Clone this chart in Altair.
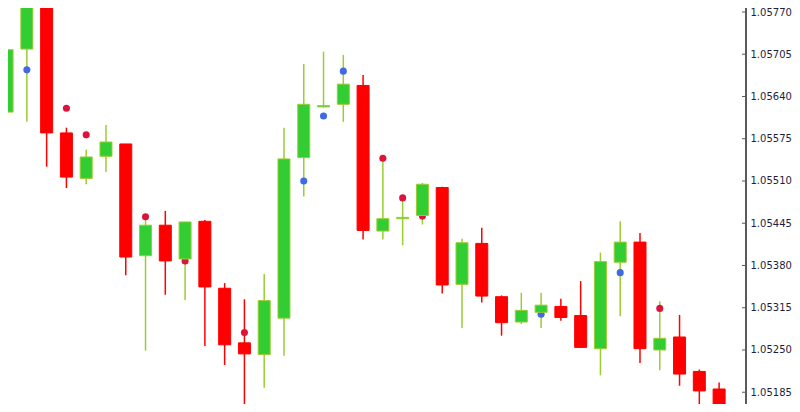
import altair as alt
import pandas as pd

opens = [1.05616, 1.05713, 1.05785, 1.05584, 1.05514, 1.05548, 1.05567, 1.05395, 1.05442, 1.05390,
         1.05448, 1.05345, 1.05261, 1.05243, 1.05299, 1.05546, 1.05624, 1.05628, 1.05657, 1.05433,
         1.05452, 1.05457, 1.05500, 1.05351, 1.05414, 1.05332, 1.05293, 1.05308, 1.05317, 1.05303,
         1.05252, 1.05385, 1.05416, 1.05250, 1.05270, 1.05217, 1.05190]
highs = [1.05738, 1.05796, 1.05787, 1.05592, 1.05558, 1.05596, 1.05567, 1.05452, 1.05464, 1.05447,
         1.05450, 1.05353, 1.05328, 1.05367, 1.05592, 1.05690, 1.05709, 1.05704, 1.05673, 1.05545,
         1.05481, 1.05507, 1.05501, 1.05421, 1.05438, 1.05334, 1.05338, 1.05338, 1.05329, 1.05356,
         1.05400, 1.05448, 1.05430, 1.05325, 1.05304, 1.05220, 1.05200]
lows = [1.05542, 1.05601, 1.05532, 1.05499, 1.05505, 1.05524, 1.05365, 1.05249, 1.05335, 1.05327,
        1.05256, 1.05227, 1.05135, 1.05192, 1.05241, 1.05486, 1.05623, 1.05601, 1.05420, 1.05420,
        1.05411, 1.05443, 1.05337, 1.05284, 1.05323, 1.05272, 1.05290, 1.05284, 1.05295, 1.05253,
        1.05211, 1.05302, 1.05230, 1.05219, 1.05195, 1.05150, 1.05140]
closes = [1.05712, 1.05782, 1.05584, 1.05516, 1.05547, 1.05570, 1.05393, 1.05442, 1.05387, 1.05447,
          1.05347, 1.05258, 1.05244, 1.05326, 1.05544, 1.05628, 1.05626, 1.05659, 1.05434, 1.05452,
          1.05454, 1.05505, 1.05350, 1.05415, 1.05333, 1.05292, 1.05311, 1.05319, 1.05300, 1.05254,
          1.05386, 1.05416, 1.05252, 1.05268, 1.05213, 1.05187, 1.05150]

blue_idx = [1, 15, 16, 17, 27, 31]
blue_val = [1.05681, 1.05510, 1.05610, 1.05679, 1.05305, 1.05369]
red_idx = [3, 4, 7, 9, 12, 19, 20, 21, 33]
red_val = [1.05622, 1.05581, 1.05455, 1.05387, 1.05277, 1.05545, 1.05484, 1.05456, 1.05314]

tick_values = [1.05770, 1.05705, 1.05640, 1.05575, 1.05510, 1.05445, 1.05380, 1.05315, 1.05250, 1.05185]

df = pd.DataFrame({"i": list(range(len(opens))), "open": opens, "high": highs,
                   "low": lows, "close": closes})
df["dir"] = ["up" if c >= o else "down" for o, c in zip(opens, closes)]

dots = pd.DataFrame({"i": blue_idx + red_idx, "v": blue_val + red_val,
                     "kind": ["blue"] * len(blue_idx) + ["red"] * len(red_idx)})
ticks_df = pd.DataFrame({"v": tick_values})

xs = alt.Scale(domain=[0.2993, 37.107], nice=False, zero=False)
ys = alt.Scale(domain=[1.0516692, 1.05770], nice=False, zero=False)

X = alt.X("i:Q", scale=xs, axis=None)

base = alt.Chart(df)

wicks = base.mark_rule(strokeWidth=1.5, clip=False).encode(
    x=X,
    y=alt.Y("high:Q", scale=ys,
            axis=alt.Axis(orient="right", values=tick_values, format=".5f",
                          ticks=False, tickSize=0, grid=False, domain=False,
                          labelFont="DejaVu Sans", labelFontSize=10,
                          labelColor="#1e1e3c", labelPadding=4, title=None)),
    y2="low:Q",
    color=alt.Color("dir:N", scale=alt.Scale(domain=["up", "down"],
                                             range=["#9ACD32", "#FF0000"]), legend=None),
)

dot_layer = alt.Chart(dots).mark_point(filled=True, size=50, opacity=1, clip=False).encode(
    x=X,
    y=alt.Y("v:Q", scale=ys),
    color=alt.Color("kind:N", scale=alt.Scale(domain=["blue", "red"],
                                              range=["#4169E1", "#DC143C"]), legend=None),
)

bodies = base.mark_bar(size=12, strokeWidth=1, clip=False).encode(
    x=X,
    y=alt.Y("open:Q", scale=ys),
    y2="close:Q",
    fill=alt.Fill("dir:N", scale=alt.Scale(domain=["up", "down"],
                                           range=["#32CD32", "#FF0000"]), legend=None),
    stroke=alt.Stroke("dir:N", scale=alt.Scale(domain=["up", "down"],
                                               range=["#9ACD32", "#FF0000"]), legend=None),
)

tick_marks = alt.Chart(ticks_df).mark_rule(color="#5a5a5a", strokeWidth=1).encode(
    y=alt.Y("v:Q", scale=ys),
    x=alt.value(734),
    x2=alt.value(737),
)

axis_line = alt.Chart(ticks_df).mark_rule(color="#5a5a5a", strokeWidth=2).encode(
    x=alt.value(738),
    y=alt.value(-4),
    y2=alt.value(392),
)

chart = alt.layer(wicks, dot_layer, bodies, tick_marks, axis_line).resolve_scale(
    color="independent"
).properties(
    width=738, height=392,
    background="white",
    autosize=alt.AutoSizeParams(type="none"),
    padding={"left": 0, "top": 4, "right": 46, "bottom": 0},
).configure_view(stroke=None)

chart.save("out.html", embed_options={"renderer": "svg", "actions": False})
